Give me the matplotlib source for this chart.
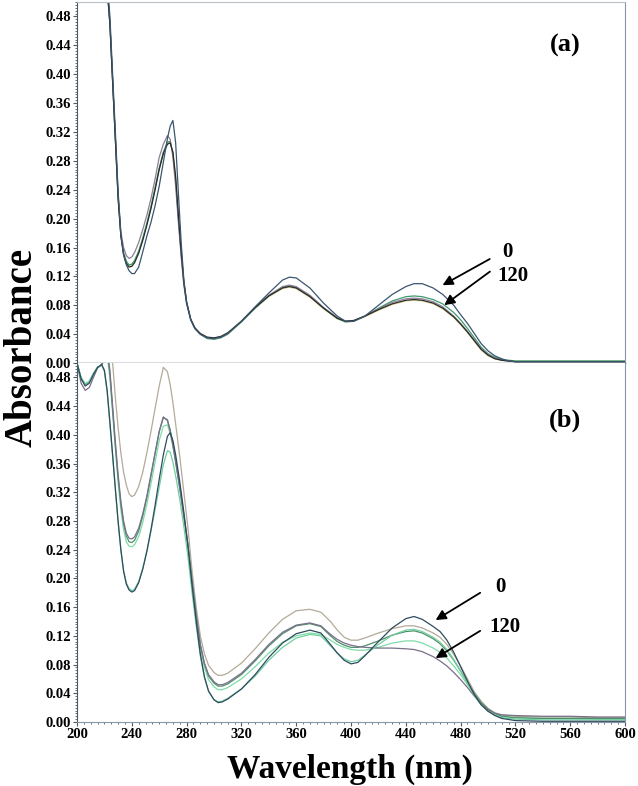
import matplotlib
matplotlib.use("Agg")
import matplotlib.pyplot as plt
from matplotlib.ticker import MultipleLocator, FormatStrFormatter

plt.rcParams['font.family'] = ['Liberation Serif', 'DejaVu Serif']
plt.rcParams['font.weight'] = 'bold'

# ---- panel (a) ----
wl_a = [218, 220, 222, 224, 226, 228, 230, 232, 234, 236,
        238, 240, 242, 245, 248, 251, 254, 257, 260, 263,
        266, 268, 270, 272, 274, 276, 278, 280, 283, 286,
        290, 295, 300, 305, 310, 320, 330, 340, 350, 355,
        360, 370, 380, 390, 396, 402, 410, 420, 430, 440,
        446, 452, 460, 467, 475, 480, 485, 490, 495, 500,
        505, 510, 515, 520, 540, 560, 580, 600]

a_navy = [0.62, 0.57, 0.53, 0.48, 0.40, 0.32, 0.238, 0.178, 0.150, 0.136,
          0.128, 0.124, 0.124, 0.133, 0.154, 0.176, 0.195, 0.218, 0.245, 0.278,
          0.311, 0.328, 0.336, 0.305, 0.235, 0.168, 0.115, 0.085, 0.060, 0.048,
          0.040, 0.035, 0.034, 0.036, 0.041, 0.058, 0.078, 0.097, 0.115, 0.119,
          0.118, 0.104, 0.083, 0.065, 0.058, 0.058, 0.065, 0.080, 0.095, 0.106,
          0.110, 0.110, 0.104, 0.095, 0.080, 0.067, 0.055, 0.041, 0.027, 0.017,
          0.010, 0.006, 0.003, 0.002, 0.002, 0.002, 0.002, 0.002]
a_purple = [0.62, 0.57, 0.52, 0.47, 0.39, 0.31, 0.232, 0.182, 0.160, 0.149,
            0.145, 0.147, 0.153, 0.167, 0.185, 0.205, 0.228, 0.255, 0.285, 0.303,
            0.315, 0.310, 0.285, 0.245, 0.195, 0.148, 0.108, 0.082, 0.060, 0.048,
            0.040, 0.035, 0.034, 0.036, 0.041, 0.058, 0.077, 0.094, 0.106, 0.108,
            0.106, 0.094, 0.077, 0.063, 0.058, 0.059, 0.065, 0.075, 0.084, 0.089,
            0.090, 0.089, 0.085, 0.078, 0.065, 0.055, 0.044, 0.032, 0.020, 0.012,
            0.007, 0.004, 0.003, 0.002, 0.002, 0.002, 0.002, 0.002]
a_green = [0.62, 0.57, 0.52, 0.47, 0.39, 0.31, 0.230, 0.178, 0.153, 0.141,
           0.136, 0.137, 0.142, 0.155, 0.173, 0.194, 0.217, 0.243, 0.270, 0.292,
           0.306, 0.307, 0.290, 0.252, 0.200, 0.152, 0.110, 0.083, 0.060, 0.048,
           0.040, 0.034, 0.033, 0.035, 0.040, 0.057, 0.076, 0.093, 0.105, 0.107,
           0.105, 0.093, 0.076, 0.062, 0.057, 0.058, 0.065, 0.076, 0.086, 0.092,
           0.093, 0.092, 0.088, 0.082, 0.070, 0.060, 0.048, 0.035, 0.022, 0.013,
           0.008, 0.005, 0.004, 0.003, 0.003, 0.003, 0.003, 0.003]
a_black = [0.62, 0.57, 0.52, 0.47, 0.39, 0.31, 0.228, 0.176, 0.150, 0.138,
           0.133, 0.134, 0.139, 0.152, 0.170, 0.191, 0.214, 0.240, 0.268, 0.290,
           0.303, 0.305, 0.292, 0.258, 0.205, 0.155, 0.112, 0.084, 0.061, 0.049,
           0.041, 0.036, 0.035, 0.037, 0.042, 0.058, 0.077, 0.093, 0.104, 0.106,
           0.104, 0.092, 0.076, 0.062, 0.058, 0.059, 0.065, 0.074, 0.082, 0.087,
           0.088, 0.087, 0.083, 0.076, 0.064, 0.054, 0.043, 0.031, 0.019, 0.011,
           0.006, 0.004, 0.003, 0.002, 0.002, 0.002, 0.002, 0.002]
a_yellow = [0.62, 0.57, 0.52, 0.47, 0.39, 0.31, 0.229, 0.177, 0.152, 0.140,
            0.135, 0.136, 0.141, 0.154, 0.172, 0.193, 0.216, 0.242, 0.269, 0.291,
            0.305, 0.306, 0.291, 0.255, 0.203, 0.154, 0.111, 0.084, 0.061, 0.049,
            0.041, 0.035, 0.034, 0.036, 0.041, 0.057, 0.076, 0.092, 0.103, 0.105,
            0.103, 0.091, 0.075, 0.061, 0.057, 0.058, 0.064, 0.073, 0.081, 0.086,
            0.087, 0.086, 0.082, 0.075, 0.063, 0.053, 0.042, 0.030, 0.018, 0.010,
            0.006, 0.004, 0.003, 0.003, 0.003, 0.003, 0.003, 0.003]

# ---- panel (b) ----
wl_b = [200, 203, 206, 209, 212, 215, 218, 220, 222, 224,
        226, 228, 230, 232, 234, 236, 238, 240, 242, 245,
        248, 251, 254, 257, 260, 263, 266, 268, 270, 272,
        275, 278, 281, 284, 287, 290, 293, 296, 300, 303,
        306, 310, 320, 330, 340, 350, 360, 370, 378, 385,
        390, 395, 400, 405, 410, 420, 430, 440, 446, 452,
        460, 465, 470, 475, 480, 485, 490, 495, 500, 505,
        510, 520, 540, 560, 580, 600]

b_navy = [0.500, 0.478, 0.468, 0.472, 0.484, 0.494, 0.498, 0.490, 0.462, 0.418,
          0.372, 0.325, 0.280, 0.240, 0.210, 0.192, 0.184, 0.181, 0.183, 0.194,
          0.213, 0.238, 0.268, 0.302, 0.338, 0.372, 0.398, 0.403, 0.392, 0.372,
          0.335, 0.292, 0.245, 0.190, 0.140, 0.095, 0.063, 0.043, 0.031, 0.027,
          0.028, 0.032, 0.046, 0.066, 0.090, 0.110, 0.123, 0.128, 0.124, 0.108,
          0.096, 0.086, 0.081, 0.083, 0.092, 0.112, 0.131, 0.144, 0.147, 0.143,
          0.133, 0.126, 0.114, 0.097, 0.077, 0.057, 0.038, 0.024, 0.015, 0.009,
          0.005, 0.002, 0.001, 0.001, 0.001, 0.001]
b_mint = [0.500, 0.480, 0.471, 0.474, 0.485, 0.494, 0.497, 0.488, 0.460, 0.415,
          0.370, 0.323, 0.278, 0.240, 0.211, 0.194, 0.186, 0.183, 0.185, 0.196,
          0.214, 0.238, 0.266, 0.296, 0.327, 0.358, 0.378, 0.376, 0.362, 0.343,
          0.310, 0.272, 0.230, 0.180, 0.134, 0.092, 0.062, 0.043, 0.031, 0.028,
          0.029, 0.033, 0.046, 0.064, 0.086, 0.104, 0.117, 0.122, 0.120, 0.106,
          0.096, 0.088, 0.084, 0.086, 0.093, 0.108, 0.121, 0.128, 0.129, 0.126,
          0.118, 0.111, 0.101, 0.087, 0.071, 0.054, 0.037, 0.024, 0.015, 0.010,
          0.006, 0.004, 0.003, 0.003, 0.003, 0.003]
b_tan = [0.560, 0.545, 0.540, 0.545, 0.555, 0.565, 0.575, 0.580, 0.575, 0.545,
         0.500, 0.452, 0.410, 0.375, 0.348, 0.330, 0.318, 0.314, 0.316, 0.328,
         0.348, 0.375, 0.405, 0.437, 0.468, 0.494, 0.488, 0.470, 0.445, 0.415,
         0.370, 0.320, 0.270, 0.210, 0.160, 0.120, 0.095, 0.079, 0.069, 0.065,
         0.065, 0.068, 0.082, 0.102, 0.124, 0.143, 0.155, 0.157, 0.153, 0.140,
         0.128, 0.118, 0.114, 0.114, 0.117, 0.124, 0.130, 0.134, 0.134, 0.131,
         0.124, 0.118, 0.108, 0.094, 0.078, 0.060, 0.042, 0.029, 0.019, 0.013,
         0.010, 0.008, 0.007, 0.007, 0.006, 0.006]
b_purple = [0.500, 0.472, 0.462, 0.466, 0.480, 0.493, 0.498, 0.510, 0.520, 0.490,
            0.440, 0.390, 0.345, 0.308, 0.280, 0.263, 0.256, 0.255, 0.258, 0.270,
            0.290, 0.315, 0.345, 0.375, 0.405, 0.425, 0.420, 0.405, 0.385, 0.362,
            0.325, 0.285, 0.245, 0.195, 0.148, 0.108, 0.082, 0.066, 0.056, 0.052,
            0.052, 0.055, 0.068, 0.087, 0.108, 0.125, 0.135, 0.138, 0.134, 0.122,
            0.115, 0.110, 0.107, 0.105, 0.104, 0.103, 0.103, 0.102, 0.101, 0.098,
            0.091, 0.085, 0.078, 0.069, 0.059, 0.048, 0.036, 0.025, 0.017, 0.012,
            0.010, 0.009, 0.008, 0.008, 0.007, 0.007]
b_dkgreen = [0.500, 0.478, 0.470, 0.474, 0.485, 0.494, 0.497, 0.505, 0.515, 0.485,
             0.435, 0.385, 0.340, 0.303, 0.276, 0.259, 0.251, 0.250, 0.253, 0.266,
             0.287, 0.313, 0.343, 0.374, 0.404, 0.424, 0.421, 0.407, 0.388, 0.365,
             0.328, 0.288, 0.247, 0.197, 0.149, 0.108, 0.081, 0.064, 0.054, 0.050,
             0.050, 0.053, 0.066, 0.085, 0.106, 0.123, 0.134, 0.137, 0.133, 0.120,
             0.112, 0.107, 0.104, 0.104, 0.106, 0.113, 0.121, 0.126, 0.127, 0.124,
             0.116, 0.109, 0.099, 0.086, 0.071, 0.055, 0.040, 0.027, 0.018, 0.012,
             0.008, 0.006, 0.005, 0.005, 0.005, 0.005]
b_ltgreen = [0.500, 0.480, 0.471, 0.475, 0.486, 0.494, 0.497, 0.505, 0.512, 0.480,
             0.430, 0.380, 0.334, 0.296, 0.268, 0.251, 0.245, 0.244, 0.247, 0.258,
             0.278, 0.303, 0.332, 0.362, 0.392, 0.412, 0.414, 0.402, 0.384, 0.362,
             0.326, 0.286, 0.245, 0.195, 0.146, 0.104, 0.076, 0.059, 0.049, 0.045,
             0.045, 0.048, 0.060, 0.077, 0.096, 0.111, 0.120, 0.124, 0.122, 0.114,
             0.108, 0.104, 0.101, 0.100, 0.100, 0.104, 0.110, 0.113, 0.113, 0.110,
             0.103, 0.097, 0.089, 0.078, 0.066, 0.052, 0.038, 0.026, 0.017, 0.011,
             0.008, 0.006, 0.005, 0.005, 0.004, 0.004]

yticks = [0.00, 0.04, 0.08, 0.12, 0.16, 0.20, 0.24, 0.28, 0.32, 0.36, 0.40, 0.44, 0.48]
xticks = [200, 240, 280, 320, 360, 400, 440, 480, 520, 560, 600]

fig = plt.figure(figsize=(6.38, 7.86), dpi=100)
ax1 = fig.add_axes([0.1207, 0.538, 0.859, 0.4595])
ax2 = fig.add_axes([0.1207, 0.0814, 0.859, 0.4567])

lw = 0.9
ax1.plot(wl_a, a_yellow, color='#e4dc9c', lw=lw)
ax1.plot(wl_a, a_green, color='#3f9a6e', lw=lw)
ax1.plot(wl_a, a_purple, color='#8c7f96', lw=lw)
ax1.plot(wl_a, a_black, color='#2a2a2a', lw=lw)
ax1.plot(wl_a, a_navy, color='#3a5570', lw=lw)

ax2.plot(wl_b, b_tan, color='#b3aa98', lw=lw)
ax2.plot(wl_b, b_ltgreen, color='#7fdca8', lw=lw)
ax2.plot(wl_b, b_dkgreen, color='#4f8f6a', lw=lw)
ax2.plot(wl_b, b_purple, color='#7a6f8a', lw=lw)
ax2.plot(wl_b, b_mint, color='#6fcf9f', lw=lw)
ax2.plot(wl_b, b_navy, color='#2f4a5f', lw=lw)

for ax in (ax1, ax2):
    ax.set_xlim(200, 600)
    ax.set_ylim(0, 0.5)
    ax.set_yticks(yticks)
    ax.set_xticks(xticks)
    ax.yaxis.set_minor_locator(MultipleLocator(0.004))
    ax.xaxis.set_minor_locator(MultipleLocator(5))
    ax.yaxis.set_major_formatter(FormatStrFormatter('%.2f'))
    ax.tick_params(axis='both', which='major', direction='out', length=3,
                   width=0.8, color='#505a66', labelsize=10.5, pad=1.5)
    ax.tick_params(axis='both', which='minor', direction='out', length=1.5,
                   width=0.6, color='#505a66')
    for lab in ax.get_yticklabels() + ax.get_xticklabels():
        lab.set_fontweight('bold')
    ax.spines['left'].set_color('#4a5866')
    ax.spines['right'].set_color('#8a98a6')
    ax.spines['top'].set_color('#b8c0c8')
    ax.spines['bottom'].set_color('#8a98a6')

ax1.tick_params(axis='x', which='both', labelbottom=False, length=0)
ax1.spines['bottom'].set_color('#3e4e5e')
ax1.spines['bottom'].set_linewidth(1.0)
ax2.spines['top'].set_visible(False)

ax1.text(0.89, 0.88, '(a)', transform=ax1.transAxes, fontsize=19,
         fontweight='bold', ha='center', va='center')
ax2.text(0.89, 0.84, '(b)', transform=ax2.transAxes, fontsize=19,
         fontweight='bold', ha='center', va='center')

arrow = dict(arrowstyle='-|>', color='black', lw=1.3, mutation_scale=15)
ax1.annotate('', xy=(465, 0.106), xytext=(503, 0.146), arrowprops=arrow)
ax1.annotate('', xy=(466.4, 0.078), xytext=(503, 0.129), arrowprops=arrow)
ax1.text(514, 0.154, '0', fontsize=15, fontweight='bold', ha='center', va='center')
ax1.text(518, 0.120, '120', fontsize=15, fontweight='bold', ha='center', va='center')

ax2.annotate('', xy=(460, 0.140), xytext=(496, 0.182), arrowprops=arrow)
ax2.annotate('', xy=(460, 0.087), xytext=(496, 0.129), arrowprops=arrow)
ax2.text(509, 0.188, '0', fontsize=15, fontweight='bold', ha='center', va='center')
ax2.text(512, 0.132, '120', fontsize=15, fontweight='bold', ha='center', va='center')

fig.text(0.034, 0.558, 'Absorbance', rotation=90, fontsize=28,
         fontweight='bold', ha='center', va='center')
fig.text(0.549, 0.021, 'Wavelength (nm)', fontsize=24,
         fontweight='bold', ha='center', va='center')

fig.savefig('out.png', dpi=100)
